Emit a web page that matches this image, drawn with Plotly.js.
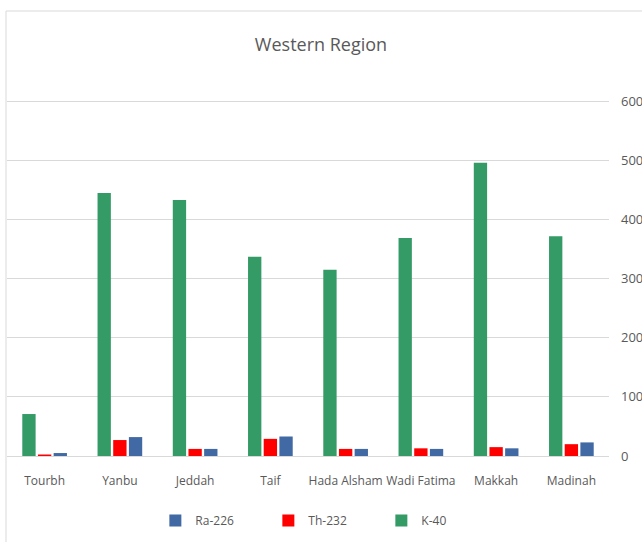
<!DOCTYPE html>
<html>
<head>
<meta charset="utf-8">
<script src="https://cdn.plot.ly/plotly-3.0.1.min.js"></script>
<style>
  html, body { margin: 0; padding: 0; background: #ffffff; }
  #chart { width: 642px; height: 542px; }
</style>
</head>
<body>
<div id="chart"></div>
<script>
// Sampling sites of the western region
const sites = ['Tourbh', 'Yanbu', 'Jeddah', 'Taif', 'Hada Alsham', 'Wadi Fatima', 'Makkah', 'Madinah'];

// Activity concentrations per radionuclide
const k40   = [71, 445, 433, 337, 315, 369, 496, 372];
const th232 = [2.5, 27, 12, 29, 12, 13, 15, 20];
const ra226 = [5, 32, 12, 33, 12, 12, 13, 23];

const yTicks = [0, 100, 200, 300, 400, 500, 600];

const textColor = '#595959';
const baseFont = 'Open Sans, Liberation Sans, sans-serif';

// Trace order sets the bar order within a group: green, red, blue
const traces = [
  { name: 'K-40',   y: k40,   color: '#349a66' },
  { name: 'Th-232', y: th232, color: '#ff0000' },
  { name: 'Ra-226', y: ra226, color: '#4169a4' }
].map(s => ({
  type: 'bar',
  name: s.name,
  x: sites,
  y: s.y,
  marker: { color: s.color },
  hoverinfo: 'skip'
}));

const plotH = 357;

const layout = {
  width: 642,
  height: 542,
  margin: { l: 7, r: 33, t: 99, b: 86 },
  paper_bgcolor: '#ffffff',
  plot_bgcolor: '#ffffff',
  font: { family: baseFont, color: textColor, size: 12 },
  title: {
    text: 'Western Region',
    font: { family: baseFont, size: 18, color: textColor },
    x: 0.5, xanchor: 'center',
    y: 1 - 45 / 542, yanchor: 'middle', yref: 'container'
  },
  barmode: 'group',
  bargap: 0.375,
  bargroupgap: 0.15,
  xaxis: {
    type: 'category',
    showgrid: false,
    showline: true,
    linecolor: '#d9d9d9',
    linewidth: 1,
    ticks: '',
    ticklabelstandoff: 14,
    tickfont: { family: baseFont, size: 12, color: textColor },
    fixedrange: true
  },
  yaxis: {
    side: 'right',
    range: [0, 604],
    tickvals: yTicks,
    ticktext: yTicks.map(String),
    showgrid: true,
    gridcolor: '#d9d9d9',
    gridwidth: 1,
    zeroline: false,
    showline: false,
    ticks: '',
    ticklabelstandoff: 11,
    tickfont: { family: baseFont, size: 13, color: textColor },
    fixedrange: true
  },
  showlegend: true,
  legend: {
    orientation: 'h',
    traceorder: 'reversed',
    itemwidth: 30,
    x: 0.528, xanchor: 'center',
    y: -0.14, yanchor: 'top',
    entrywidth: 68,
    entrywidthmode: 'pixels',
    font: { family: baseFont, size: 12, color: textColor },
    bgcolor: 'rgba(0,0,0,0)'
  },
  shapes: [
    {
      // outer chart frame
      type: 'rect', xref: 'paper', yref: 'paper',
      x0: -1 / 602, x1: 1.2, y0: -0.4, y1: (plotH + 88) / plotH,
      line: { color: '#d9d9d9', width: 1 },
      fillcolor: 'rgba(0,0,0,0)',
      layer: 'below'
    }
  ]
};

Plotly.newPlot('chart', traces, layout, { displayModeBar: false, staticPlot: true });
</script>
</body>
</html>
